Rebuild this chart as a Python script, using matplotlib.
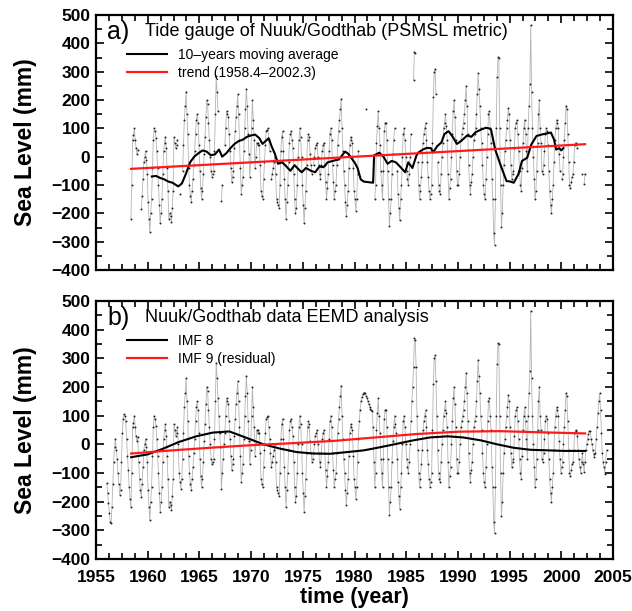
import numpy as np
import matplotlib
matplotlib.use("Agg")
import matplotlib.pyplot as plt
from matplotlib.ticker import MultipleLocator

plt.rcParams['font.family'] = ['Liberation Sans', 'DejaVu Sans']

# ---------------- data (monthly sea level, mm), Jan 1956 onwards ----------------
start_year = 1956
sea_level_mm = [
    # 1956
    -135, -170, -205, -240, -270, -275, -220, -140, -60, -10, 20, -20,
    # 1957
    -50, -100, -140, -175, -160, -60, 40, 90, 105, 100, 80, 20,
    # 1958
    -40, -90, -150, -190, -220, -100, 60, 75, 100, 60, 30, 10,
    # 1959
    25, -60, -120, -160, -185, -140, -80, -20, 0, 20, -10, -60,
    # 1960
    -160, -220, -265, -200, -150, -40, 60, 100, 90, 65, 20, -40,
    # 1961
    -100, -170, -235, -200, -150, -60, 20, 50, 70, 30, -40, -120,
    # 1962
    -220, -200, -210, -230, -180, -120, 70, 50, 30, 40, 60, 0,
    # 1963
    -100, -130, -155, -120, -50, 40, 130, 180, 230, 150, 80, -40,
    # 1964
    -100, -140, -160, -120, -80, -30, 20, 80, 130, 150, 120, 40,
    # 1965
    -50, -110, -150, -120, -60, 10, 70, 140, 200, 185, 120, 60,
    # 1966
    0, -50, -70, -60, -50, 20, 150, 285, 230, 160, 100, 40,
    # 1967
    -10, -155, -100, -50, 0, 40, 100, 160, 150, 140, 80, 20,
    # 1968
    -40, -90, -70, -50, 30, 90, 140, 180, 220, 150, 60, -40,
    # 1969
    -130, -100, -70, 20, 100, 170, 240, 180, 80, 10, -70, -20,
    # 1970
    100, 200, 130, 60, -40, 0, 50, 40, 50, 40, -30, -120,
    # 1971
    -140, -150, -80, -20, 40, 90, 95, 100, 60, 20, -30, -80,
    # 1972
    -60, -40, -20, 0, -60, -150, -160, -170, -180, -100, 20, 70,
    # 1973
    90, 20, -80, -150, -220, -160, -100, -20, 50, 80, 90, 60,
    # 1974
    30, -60, -150, -200, -180, -100, 0, 60, 100, 70, 0, -100,
    # 1975
    -170, -235, -180, -120, -30, 60, 80, 70, 10, -30, -60, -50,
    # 1976
    -30, 0, 30, 40, 50, 0, -30, -60, -80, -30, 20, 40,
    # 1977
    50, -30, -90, -150, -110, -60, 20, 80, 100, 60, -30, -90,
    # 1978
    -150, -120, -100, -30, 40, 90, 130, 170, 205, 100, 20, -50,
    # 1979
    -100, -160, -210, -170, -120, -40, 40, 70, 60, 50, -40, -120,
    # 1980
    -150, -190, -150, -60, 20, 80, 120, 150, 165, 175, 180, 180,
    # 1981
    178, 170, 160, 150, 140, 130, 125, 120, 118, 60, -60, -150,
    # 1982
    -100, 50, 110, 160, 100, 40, -50, -100, -150, -50, 90, 120,
    # 1983
    120, 60, -50, -150, -245, -200, -150, -60, 10, 60, 100, 70,
    # 1984
    40, -50, -130, -180, -225, -150, -100, 0, 80, 100, 60, 0,
    # 1985
    -50, -80, -100, -60, 0, 80, 150, 200, 270, 370, 365, 270,
    # 1986
    100, -20, -100, -150, -120, -70, -20, 50, 80, 100, 120, 60,
    # 1987
    -20, -70, -120, -150, -130, -100, 50, 210, 300, 310, 220, 100,
    # 1988
    -20, -100, -120, -130, -60, 0, 50, 100, 120, 150, 110, 60,
    # 1989
    -60, -150, -110, -80, 0, 80, 160, 200, 140, 60, -50, -100,
    # 1990
    -100, -60, 0, 60, 80, 100, 120, 150, 200, 250, 180, 80,
    # 1991
    -30, -100, -130, -90, -60, 0, 60, 80, 100, 150, 220, 295,
    # 1992
    240, 180, 100, 50, -30, -100, -130, -150, -80, 0, 80, 150,
    # 1993
    160, 100, 50, -80, -150, -270, -311, -150, 100, 280, 352, 350,
    # 1994
    100, -100, -249, -200, -100, -30, 20, 60, 100, 130, 171, 150,
    # 1995
    60, -30, -80, -60, -50, 30, 100, 120, 130, 80, 20, -50,
    # 1996
    -100, -120, -40, 50, 100, 130, 80, 20, -50, 100, 180, 255,
    # 1997
    465, 230, 100, 0, -80, -150, -120, -50, 50, 150, 200, 100,
    # 1998
    50, -50, -60, -30, 20, 80, 100, 90, 40, -50, -120, -170,
    # 1999
    -200, -150, -100, -20, 60, 100, 130, 120, 100, 10, -50, -100,
    # 2000
    -80, -60, 0, 60, 120, 180, 170, 80, -20, -100, -110, -90,
    # 2001
    -70, -60, -20, 40, 50, 45, 30, -20, -50, -80, -100, -60,
    # 2002
    -30, -70, -96, -60, -20, 0, 20, 35, 45, 45, 20, 0,
    # 2003
    -20, -35, -44, -30, 20, 60, 108, 150, 178, 120, 40, -30,
    # 2004
    -60, -80, -102, -60, -20,
]

# panel a: observed record span and missing stretches (decimal years)
record_start, record_end = 1958.33, 2002.33
panel_a_gaps = [(1959.1, 1959.3), (1962.95, 1963.05), (1963.2, 1963.3),
                (1966.8, 1966.99), (1967.0, 1967.1), (1967.28, 1967.45),
                (1971.85, 1971.95), (1975.9, 1976.0), (1980.45, 1981.1),
                (1981.15, 1981.95), (1983.95, 1984.05), (1985.5, 1985.7),
                (1985.95, 1986.1), (1987.9, 1988.0), (1999.9, 2000.0),
                (2001.6, 2001.9), (2002.0, 2002.2)]

# 10-year moving average (panel a)
ma_years = [1960.4, 1960.8, 1961.2, 1961.6, 1962.0, 1962.4, 1962.95, 1963.3, 1963.7,
            1964.1, 1964.5, 1964.9, 1965.3, 1965.7, 1966.1, 1966.5, 1966.9, 1967.2,
            1967.6, 1968.0, 1968.4, 1968.8, 1969.2, 1969.6, 1970.0, 1970.4, 1970.8,
            1971.1, 1971.4, 1971.7, 1972.0, 1972.3, 1972.6, 1973.0, 1973.3, 1973.8,
            1974.2, 1974.6, 1974.9, 1975.3, 1975.8, 1976.2, 1976.6, 1977.0, 1977.4,
            1977.8, 1978.2, 1978.5, 1978.8, 1979.1, 1979.4, 1979.6, 1980.0, 1980.3,
            1980.6, 1980.9, 1981.8, 1981.9, 1982.1, 1982.4, 1982.8, 1983.2, 1983.6,
            1984.0, 1984.4, 1984.9, 1985.2, 1985.6, 1986.0, 1986.2, 1986.6, 1987.0,
            1987.4, 1987.6, 1988.0, 1988.4, 1988.7, 1989.1, 1989.5, 1989.9, 1990.3,
            1990.9, 1991.3, 1991.7, 1992.2, 1992.7, 1993.0, 1993.2, 1993.6, 1994.1,
            1994.7, 1995.1, 1995.4, 1995.85, 1996.2, 1996.7, 1997.1, 1997.6, 1998.2,
            1998.6, 1999.0, 1999.3, 1999.5, 1999.8, 2000.0, 2000.2]
ma_values = [-70, -68, -75, -80, -88, -92, -105, -95, -60,
             -20, 0, 12, 22, 18, 5, 8, 25, 0,
             12, 30, 45, 55, 60, 70, 75, 78, 65,
             45, 55, 65, 35, 10, -25, -20, -30, -50,
             -30, -45, -55, -40, -50, -55, -35, -37, -20,
             -16, -12, -10, 5, 18, 10, 0, -20, -40,
             -80, -88, -92, 5, 8, 14, 0, -25, -15,
             -20, -35, -55, -20, -40, 5, 15, 25, 31,
             30, 15, 37, 50, 80, 90, 70, 45, 55,
             75, 70, 86, 95, 102, 100, 96, 26, -27,
             -86, -88, -92, -62, -15, -4, 43, 73, 79,
             82, 85, 60, 25, 30, 22, 30]

# linear trend (panel a)
trend_years = [1958.4, 2002.3]
trend_values = [-43, 44]

# EEMD components (panel b)
imf8_years = [1958.4, 1960.0, 1961.5, 1963.0, 1964.7, 1966.3, 1967.9, 1969.6, 1971.2,
              1972.8, 1974.4, 1976.0, 1977.6, 1979.3, 1980.9, 1982.5, 1984.1, 1985.7,
              1987.3, 1989.0, 1990.5, 1992.2, 1993.8, 1995.4, 1997.0, 1998.7, 2000.3, 2002.3]
imf8_values = [-45, -35, -15, 8, 28, 41, 45, 22, 0,
               -15, -27, -32, -33, -27, -21, -10, 2, 14,
               24, 28, 24, 14, 0, -12, -19, -21, -23, -23]
imf9_years = [1958.4, 1962, 1966, 1970, 1974, 1978, 1982, 1986, 1990, 1994, 1998, 2002.3]
imf9_values = [-32, -22, -12, -3, 4, 12, 24, 36, 44, 46, 42, 38]

# ---------------- derived arrays ----------------
sl = np.array(sea_level_mm, dtype=float)
t = start_year + (np.arange(len(sl)) + 0.5) / 12.0

in_rec = (t >= record_start) & (t <= record_end)
ta = t[in_rec]
va = sl[in_rec].copy()
for g0, g1 in panel_a_gaps:
    va[(ta >= g0) & (ta <= g1)] = np.nan

# ---------------- figure ----------------
fig = plt.figure(figsize=(6.32, 6.11), dpi=100)
L, W = 96 / 632, 517 / 632
axa = fig.add_axes([L, 1 - 270 / 611, W, 255 / 611])
axb = fig.add_axes([L, 1 - 559 / 611, W, 258 / 611])

gray = '#b4b4b4'
red = '#ff1a1a'


def style(ax, show_xlabels):
    ax.set_xlim(1955, 2005)
    ax.set_ylim(-400, 500)
    ax.xaxis.set_major_locator(MultipleLocator(5))
    ax.xaxis.set_minor_locator(MultipleLocator(1.25))
    ax.yaxis.set_major_locator(MultipleLocator(100))
    ax.yaxis.set_minor_locator(MultipleLocator(50))
    ax.tick_params(which='both', direction='in', top=True, right=True, width=1.2)
    ax.tick_params(which='major', length=6, labelsize=12.5)
    ax.tick_params(axis='x', which='major', pad=8)
    ax.tick_params(axis='y', which='major', pad=4)
    ax.tick_params(which='minor', length=4)
    for s in ax.spines.values():
        s.set_linewidth(1.6)
    for lab in ax.get_yticklabels() + ax.get_xticklabels():
        lab.set_fontweight('bold')
    if not show_xlabels:
        ax.tick_params(labelbottom=False)
    ax.set_ylabel('Sea Level (mm)', fontsize=16.5, fontweight='bold', labelpad=10)


def legend(ax, handles):
    ax.legend(handles=handles, loc='upper left', bbox_to_anchor=(0.06, 0.872),
              frameon=False, fontsize=10, handlelength=2.85, handletextpad=0.85,
              labelspacing=0.3, borderaxespad=0, borderpad=0)


# panel a
axa.plot(ta, va, color=gray, lw=0.6, zorder=1)
axa.plot(ta, va, 'o', ms=1.4, color='#222222', mew=0, zorder=2)
h1, = axa.plot(ma_years, ma_values, color='black', lw=1.5, zorder=3,
               label='10\u2013years moving average')
h2, = axa.plot(trend_years, trend_values, color=red, lw=1.6, zorder=4,
               label='trend (1958.4\u20132002.3)')
style(axa, False)
axa.text(0.022, 0.935, 'a)', transform=axa.transAxes, fontsize=18, va='center', ha='left')
axa.text(0.095, 0.935, 'Tide gauge of Nuuk/Godthab (PSMSL metric)', transform=axa.transAxes,
         fontsize=13, va='center', ha='left')
legend(axa, [h1, h2])

# panel b
axb.plot(t, sl, color=gray, lw=0.6, zorder=1)
axb.plot(t, sl, 'o', ms=1.4, color='#222222', mew=0, zorder=2)
g1, = axb.plot(imf8_years, imf8_values, color='black', lw=1.5, zorder=3, label='IMF 8')
g2, = axb.plot(imf9_years, imf9_values, color=red, lw=1.6, zorder=4,
               label='IMF 9 (residual)')
style(axb, True)
axb.set_xlabel('time (year)', fontsize=15.5, fontweight='bold', labelpad=1)
axb.text(0.022, 0.935, 'b)', transform=axb.transAxes, fontsize=18, va='center', ha='left')
axb.text(0.095, 0.935, 'Nuuk/Godthab data EEMD analysis', transform=axb.transAxes,
         fontsize=13, va='center', ha='left')
legend(axb, [g1, g2])

fig.savefig('out.png', dpi=100)
